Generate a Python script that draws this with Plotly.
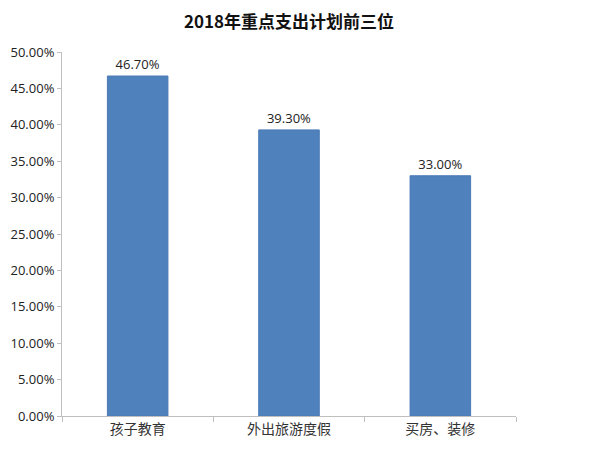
import plotly.graph_objects as go

categories = ["孩子教育", "外出旅游度假", "买房、装修"]
values = [46.70, 39.30, 33.00]
y_ticks = [0, 5, 10, 15, 20, 25, 30, 35, 40, 45, 50]
y_tick_labels = [f"{v:.2f}%" for v in y_ticks]
value_labels = [f"{v:.2f}%" for v in values]

fig = go.Figure()
fig.add_trace(go.Bar(
    x=categories, y=values,
    marker=dict(color="#4F81BD", line=dict(color="#4A7AB5", width=1)),
    width=0.4,
    text=value_labels, textposition="outside",
    textfont=dict(family="Open Sans, DejaVu Sans, sans-serif", size=13, color="#222222"),
    cliponaxis=False,
))

fig.update_layout(
    width=600, height=450,
    margin=dict(l=54, r=92, t=44, b=42, autoexpand=False),
    paper_bgcolor="white", plot_bgcolor="white",
    showlegend=False,
    title=dict(text="<b>2018年重点支出计划前三位</b>", x=0.5, xref="paper", xanchor="center",
               y=0.969, yanchor="middle",
               font=dict(family="Noto Sans CJK SC, sans-serif", size=17, color="#111111")),
    xaxis=dict(
        showline=True, linecolor="#BFBFBF", linewidth=1,
        ticks="outside", tickson="boundaries", ticklen=5, tickcolor="#BFBFBF",
        tickfont=dict(family="Noto Sans CJK SC, sans-serif", size=14, color="#333333"),
        showgrid=False, automargin=False,
    ),
    yaxis=dict(
        range=[0, 50],
        tickvals=y_ticks, ticktext=y_tick_labels,
        showline=True, linecolor="#BFBFBF", linewidth=1,
        ticks="outside", ticklen=4, tickcolor="#BFBFBF",
        tickfont=dict(family="Open Sans, DejaVu Sans, sans-serif", size=13, color="#222222"),
        showgrid=False, zeroline=False, automargin=False,
    ),
)

fig.write_html("out.html")
